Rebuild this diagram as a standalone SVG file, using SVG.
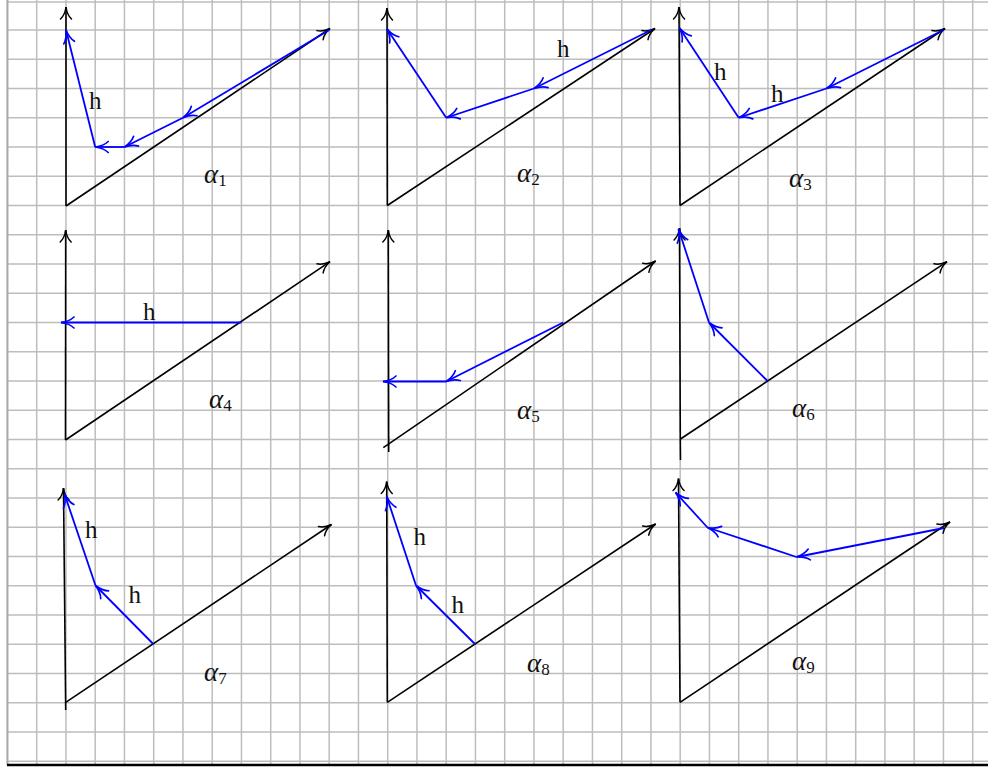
<svg xmlns="http://www.w3.org/2000/svg" width="988" height="769" viewBox="0 0 988 769">
<style>
.grid{stroke:#bdbdbd;stroke-width:1.5;fill:none}
.ax{stroke:#000;stroke-width:1.6;fill:none;marker-end:url(#ak)}
.ln{stroke:#000;stroke-width:1.6;fill:none}
.bl{stroke:#0000ff;stroke-width:1.8;fill:none;marker-end:url(#ab)}
.h{font-family:"Liberation Serif",serif;font-size:25px;fill:#111}
.al{font-family:"Liberation Serif",serif;font-size:27px;font-style:italic;fill:#111}
.sub{font-size:17px;font-style:normal}
</style>
<defs>
<marker id="ak" markerUnits="userSpaceOnUse" orient="auto" refX="0" refY="0" markerWidth="20" markerHeight="20" overflow="visible">
<path d="M-12,-5.5 C-9,-2.2 -4.5,-0.6 0,0 C-4.5,0.6 -9,2.2 -12,5.5" fill="none" stroke="#000" stroke-width="1.5" stroke-linecap="round"/>
</marker>
<marker id="ab" markerUnits="userSpaceOnUse" orient="auto" refX="0" refY="0" markerWidth="20" markerHeight="20" overflow="visible">
<path d="M-13,-5.5 C-9.5,-2.2 -4.5,-0.6 0,0 C-4.5,0.6 -9.5,2.2 -13,5.5" fill="none" stroke="#0000ff" stroke-width="1.7" stroke-linecap="round"/>
</marker>
</defs>
<rect width="988" height="769" fill="#fff"/>
<g id="grid">
<path class="grid" d="M7.45 0V765M36.7 0V765M65.95 0V765M95.2 0V765M124.45 0V765M153.7 0V765M182.95 0V765M212.2 0V765M241.45 0V765M270.7 0V765M299.95 0V765M329.2 0V765M358.45 0V765M387.7 0V765M416.95 0V765M446.2 0V765M475.45 0V765M504.7 0V765M533.95 0V765M563.2 0V765M592.45 0V765M621.7 0V765M650.95 0V765M680.2 0V765M709.45 0V765M738.7 0V765M767.95 0V765M797.2 0V765M826.45 0V765M855.7 0V765M884.95 0V765M914.2 0V765M943.45 0V765M972.7 0V765"/>
<path class="grid" d="M7 2H988M7 30H988M7 59.25H988M7 88.5H988M7 117.75H988M7 147H988M7 176.25H988M7 205.5H988M7 234.75H988M7 264H988M7 293.25H988M7 322.5H988M7 351.75H988M7 381H988M7 410.25H988M7 439.5H988M7 468.75H988M7 498H988M7 527.25H988M7 556.5H988M7 585.75H988M7 615H988M7 644.25H988M7 673.5H988M7 702.75H988M7 732H988M7 761.25H988"/>
<path d="M7.45 0V765" stroke="#a8a8a8" stroke-width="1.8"/>
<path d="M7 765H988" stroke="#000" stroke-width="2.4"/>
</g>
<g id="panel1">
<path class="ax" d="M66 206L66 7"/>
<path class="ax" d="M66 206L330 28.5"/>
<path class="bl" d="M329.2 30L183 117.75"/>
<path class="bl" d="M183 117.75L124.45 147"/>
<path class="bl" d="M124.45 147L95.2 147"/>
<path class="bl" d="M95.2 147L66 30"/>
<text class="h" x="89" y="109">h</text>
<text class="al" x="204" y="183">α<tspan class="sub" dy="3">1</tspan></text>
</g>
<g id="panel2">
<path class="ax" d="M387.3 205.5L387 8"/>
<path class="ax" d="M387.3 205.5L655 28.5"/>
<path class="bl" d="M651 30L534 88.5"/>
<path class="bl" d="M534 88.5L446.2 117.75"/>
<path class="bl" d="M446.2 117.75L387 29"/>
<text class="h" x="557" y="56.5">h</text>
<text class="al" x="517" y="182">α<tspan class="sub" dy="3">2</tspan></text>
</g>
<g id="panel3">
<path class="ax" d="M680 205.5L679 7"/>
<path class="ax" d="M680 205.5L945 28.5"/>
<path class="bl" d="M943.45 30L826.45 88.5"/>
<path class="bl" d="M826.45 88.5L738.7 117.75"/>
<path class="bl" d="M738.7 117.75L679.5 28"/>
<text class="h" x="714" y="80">h</text>
<text class="h" x="771" y="101.5">h</text>
<text class="al" x="789" y="186.5">α<tspan class="sub" dy="3">3</tspan></text>
</g>
<g id="panel4">
<path class="ax" d="M65.5 440L65.7 230"/>
<path class="ax" d="M65.5 440L330 261.7"/>
<path class="bl" d="M241.45 322.5L61 322.5"/>
<text class="h" x="143" y="320">h</text>
<text class="al" x="209" y="408">α<tspan class="sub" dy="3">4</tspan></text>
</g>
<g id="panel5">
<path class="ax" d="M388.7 452L388.3 230"/>
<path class="ax" d="M383.3 447.7L655.7 261"/>
<path class="bl" d="M563.2 322.5L446.2 381.5"/>
<path class="bl" d="M446.2 381.5L383 381.5"/>
<text class="al" x="517" y="419">α<tspan class="sub" dy="3">5</tspan></text>
</g>
<g id="panel6">
<path class="ln" d="M680.5 460L680.3 440"/>
<path class="ax" d="M680.3 440L679.5 228"/>
<path class="ax" d="M680.5 439L947 261.7"/>
<path class="bl" d="M767.5 381L709 322.5"/>
<path class="bl" d="M709 322.5L678.5 229"/>
<text class="al" x="792" y="416.5">α<tspan class="sub" dy="3">6</tspan></text>
</g>
<g id="panel7">
<path class="ax" d="M65.7 710L63.5 488"/>
<path class="ax" d="M65.7 702.3L331.5 524.5"/>
<path class="bl" d="M153.5 644.25L95.5 585.5"/>
<path class="bl" d="M95.5 585.5L64.5 494"/>
<text class="h" x="85" y="538">h</text>
<text class="h" x="128.5" y="603">h</text>
<text class="al" x="204" y="680.5">α<tspan class="sub" dy="3">7</tspan></text>
</g>
<g id="panel8">
<path class="ax" d="M387.3 702.3L386.7 481.5"/>
<path class="ax" d="M387.3 702.3L655.7 524"/>
<path class="bl" d="M475.2 644.25L416 585.5"/>
<path class="bl" d="M416 585.5L386.7 496.5"/>
<text class="h" x="413.5" y="545">h</text>
<text class="h" x="451.5" y="612.5">h</text>
<text class="al" x="527" y="671.5">α<tspan class="sub" dy="3">8</tspan></text>
</g>
<g id="panel9">
<path class="ax" d="M680 702.3L678.5 478.5"/>
<path class="ax" d="M680 702.3L950 522"/>
<path class="bl" d="M944 528L796.5 557"/>
<path class="bl" d="M796.5 557L707.5 527.5"/>
<path class="bl" d="M707.5 527.5L675.5 492.5"/>
<text class="al" x="792" y="670">α<tspan class="sub" dy="3">9</tspan></text>
</g>
</svg>
